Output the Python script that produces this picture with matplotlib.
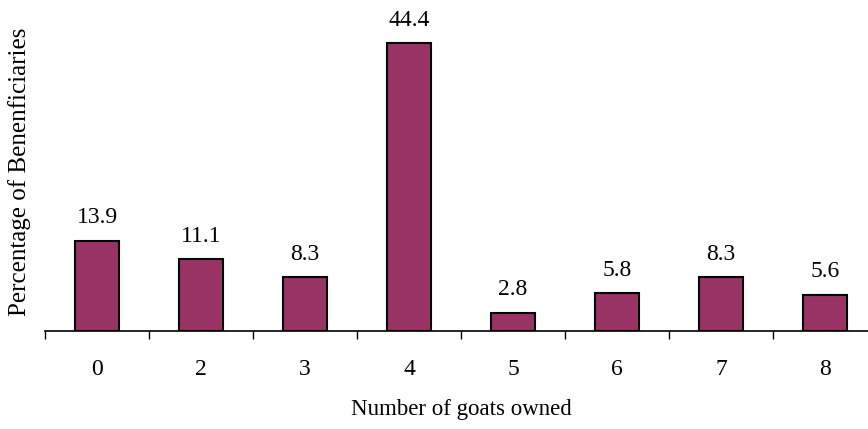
import matplotlib.pyplot as plt

plt.rcParams['font.family'] = ['Liberation Serif', 'DejaVu Serif']

goats = ['0', '2', '3', '4', '5', '6', '7', '8']
percent = [13.9, 11.1, 8.3, 44.4, 2.8, 5.8, 8.3, 5.6]

fig = plt.figure(figsize=(8.68, 4.29), dpi=100)
ax = fig.add_axes([45 / 868, 1 - 331 / 429, 832 / 868, 324 / 429])

pos = range(len(goats))
bars = ax.bar(pos, percent, width=0.42, color='#993366', edgecolor='black', linewidth=1.5)
for b, v in zip(bars, percent):
    ax.annotate(f'{v}', (b.get_x() + b.get_width() / 2, v), xytext=(0, 9),
                textcoords='offset points', ha='center', va='bottom', fontsize=17)

ax.set_xlim(-0.5, len(goats) - 0.5)
ax.set_ylim(0, 50)

# category labels in the middle, tick marks on the boundaries between them
ax.set_xticks([i + 0.5 for i in range(-1, len(goats))], minor=False)
ax.set_xticklabels([])
ax.tick_params(axis='x', which='major', direction='out', length=6, width=1, color='black')
ax.set_xticks(list(pos), minor=True)
ax.set_xticklabels(goats, minor=True, fontsize=17)
ax.tick_params(axis='x', which='minor', length=0, pad=20)

ax.set_yticks([])
for side in ['top', 'right', 'left']:
    ax.spines[side].set_visible(False)
ax.spines['bottom'].set_linewidth(1.2)

ax.set_xlabel('Number of goats owned', fontsize=16.5, labelpad=14)
ax.set_ylabel('Percentage of Benenficiaries', fontsize=18, labelpad=8)
ax.yaxis.set_label_coords(-14 / 832, 0.49)

fig.savefig('out.png', dpi=100)
